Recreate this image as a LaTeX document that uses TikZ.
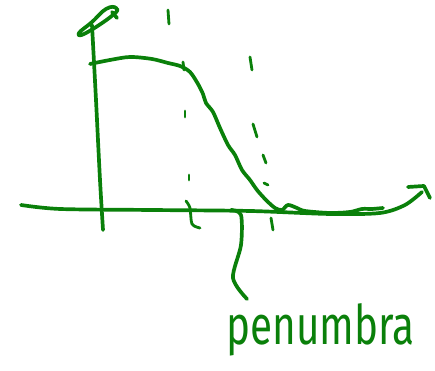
\documentclass[tikz,border=0pt]{standalone}
\usepackage{fontspec}
\setmainfont{Fira Sans}
\definecolor{penGreen}{RGB}{10,128,10}
\tikzset{
  pen/.style={penGreen, line width=1.05pt, line cap=round, line join=round},
  dashpen/.style={penGreen, line width=0.8pt, line cap=round}
}
\begin{document}
\begin{tikzpicture}[x=0.01cm, y=-0.01cm]
        \useasboundingbox (0,0) rectangle (435,371);
        % ---- horizontal axis ----
        \draw[pen] plot[smooth] coordinates {(21,205) (60,209) (150,210) (250,211) (330,214) (380,213) (405,205) (422,192)};
        \draw[pen] (408,187) -- (424,186) -- (430,198);
        % ---- vertical axis with looped tip ----
        \draw[pen] plot[smooth] coordinates {(103,230) (100,180) (96,100) (92,25)};
        \draw[pen] plot[smooth cycle, tension=0.8] coordinates {(92,22) (106,9) (116,8) (113,15) (86,33) (79,33)};
        \draw[pen] (112,12) -- (117,18);
        % ---- profile curve ----
        \draw[pen] plot[smooth, tension=0.5] coordinates {(90,64) (110,60) (130,57) (152,59) (168,63) (180,66)
            (190,72) (198,84) (203,94) (206,103) (213,112) (220,128) (228,145) (235,155) (242,170)
            (250,180) (257,190) (266,200) (275,208) (282,210) (288,205) (297,208) (305,211)
            (330,213) (350,212) (362,209) (372,209) (383,208)};
        % ---- left dashed boundary ----
        \draw[dashpen] (168,10) -- (169,24);
        \draw[dashpen] (183,62) -- (184,70);
        \draw[dashpen] (185,111) -- (185,117);
        \draw[dashpen] (189,175) -- (189,180);
        \draw[dashpen] plot[smooth] coordinates {(186,201) (190,208) (192,224) (200,228)};
        % ---- right dashed boundary ----
        \draw[dashpen] (250,57) -- (252,70);
        \draw[dashpen] (253,124) -- (257,137);
        \draw[dashpen] (263,155) -- (266,163);
        \draw[dashpen] (264,183) -- (268,185);
        \draw[dashpen] (271,218) -- (273,230);
        % ---- label and pointer ----
        \node[penGreen, anchor=base west, inner sep=0pt, font=\fontsize{11.5}{12}\selectfont] (penLabel) at (226,345) {\scalebox{1}[1.35]{penumbra}};
        \coordinate (pointerTop) at (231,210);
        \draw[pen] plot[smooth] coordinates {(pointerTop) (241,215) (241,245) (233,278) (247,299)};
\end{tikzpicture}
\end{document}
